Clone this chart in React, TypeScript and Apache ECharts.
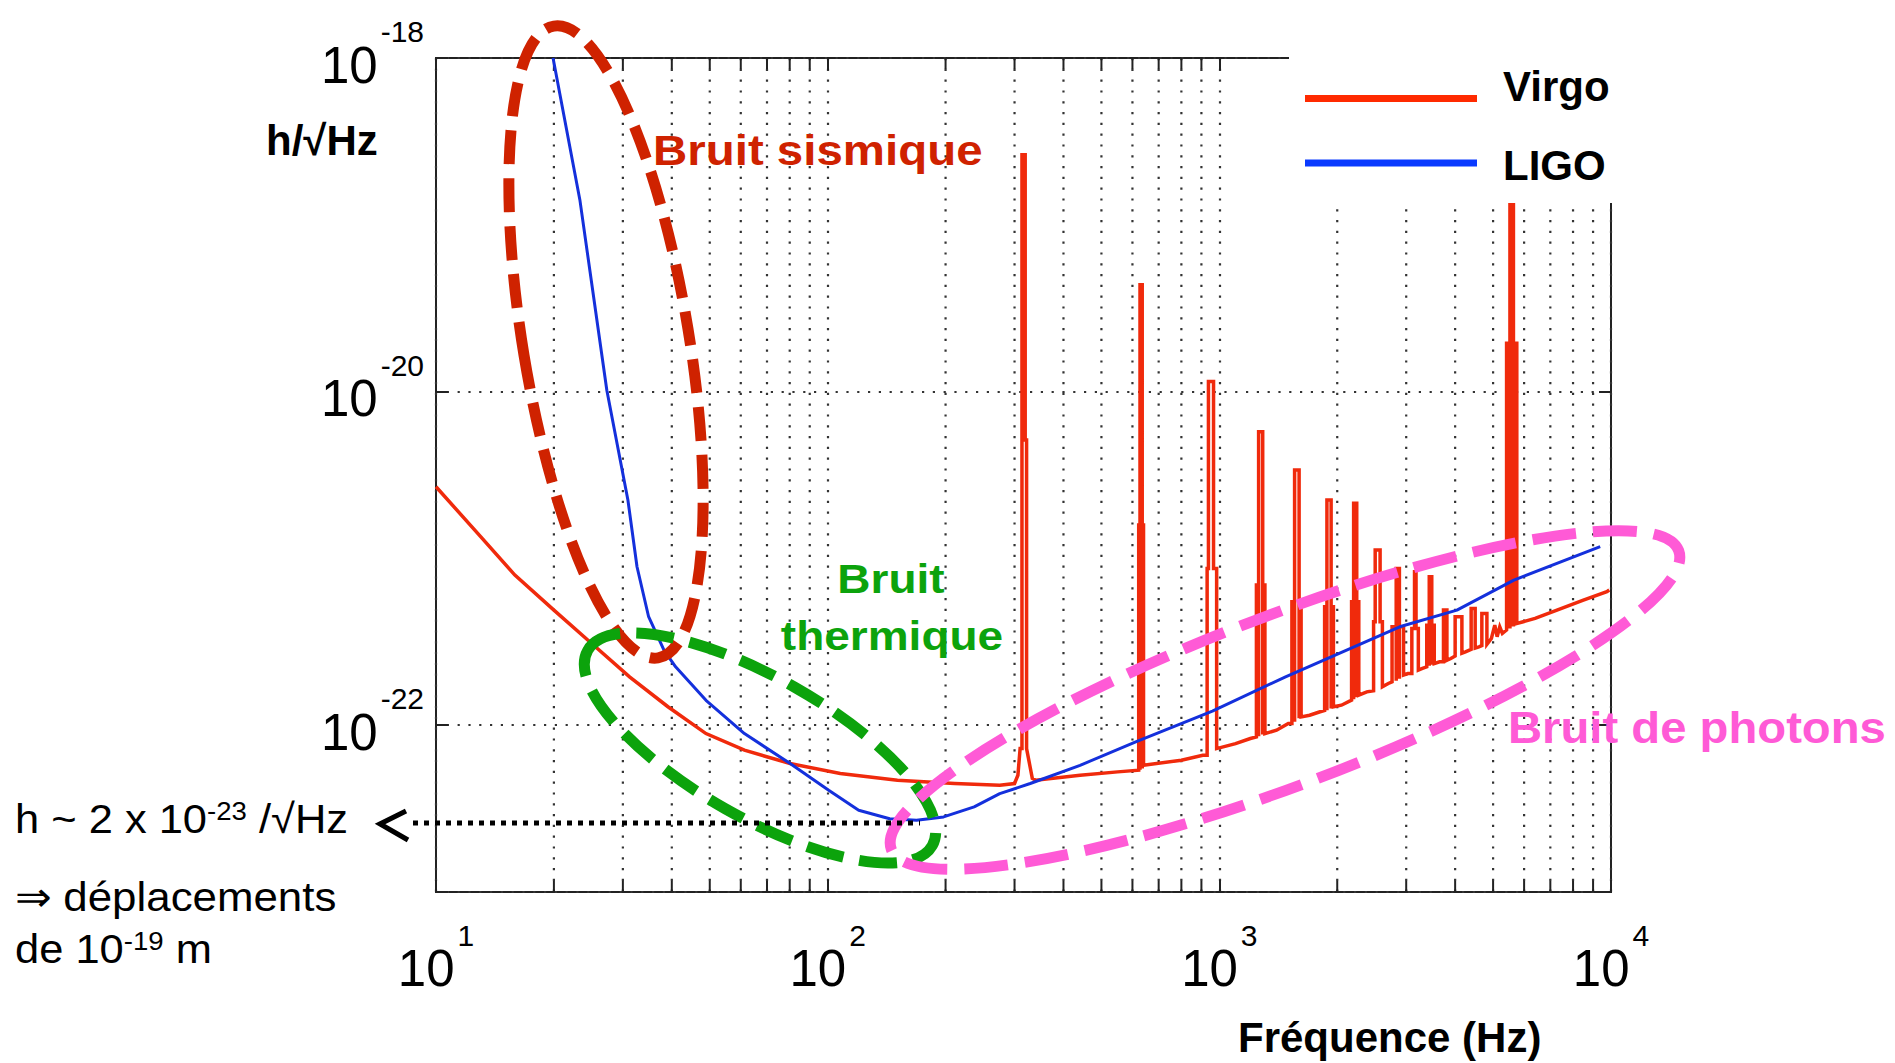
import React, { useEffect, useRef } from 'react';
import * as echarts from 'echarts';

// ---------- data ----------
const seriesNames = ['Virgo', 'LIGO'];
const xTickExponents = [1, 2, 3, 4];
const yTickExponents = [-22, -20, -18];
const xRange = [10, 10000];
const yRange = [1e-23, 1e-18];
const minorFreqs = [20, 30, 40, 50, 60, 70, 80, 90, 200, 300, 400, 500, 600, 700, 800, 900, 2000, 3000, 4000, 5000, 6000, 7000, 8000, 9000];

// Virgo sensitivity [frequency Hz, h/sqrt(Hz)] (with the narrow resonance peaks)
const virgo: [number, number][] = [
  [10, 2.69e-21], [13, 1.35e-21], [15.9, 7.94e-22], [20, 4.9e-22], [24.4, 3.24e-22],
  [31.2, 1.95e-22], [39.1, 1.29e-22], [48.9, 8.91e-23], [61.3, 7.08e-23], [80.2, 5.89e-23], [107.7, 5.13e-23],
  [150.7, 4.68e-23], [211, 4.47e-23], [275, 4.37e-23], [300, 4.47e-23],
  // ~316 Hz
  [306, 5.01e-23], [310, 7.24e-23], [313.4, 7.24e-23], [313.4, 2.63e-19], [319.4, 2.63e-19], [319.4, 5.13e-21],
  [322, 5.13e-21], [322, 7.24e-23], [327, 6.0e-23], [333, 4.8e-23],
  [340, 4.68e-23], [441, 5.01e-23], [550, 5.25e-23],
  // ~631 Hz
  [622.5, 5.37e-23], [622.5, 1.585e-21], [627.3, 1.585e-21], [627.3, 5.4e-23], [627.3, 4.37e-20], [635.5, 4.37e-20],
  [635.5, 5.5e-23], [635.5, 1.585e-21], [640.4, 1.585e-21], [640.4, 5.75e-23],
  [800, 6.17e-23], [907, 6.61e-23],
  // ~953 Hz
  [930.8, 6.61e-23], [930.8, 8.71e-22], [938, 8.71e-22], [938, 1.148e-20], [966.5, 1.148e-20], [966.5, 8.71e-22],
  [984.3, 8.71e-22], [984.3, 7.24e-23],
  [1100, 7.76e-23], [1200, 8.32e-23],
  // ~1271 Hz
  [1243.6, 8.51e-23], [1243.6, 6.92e-22], [1259.8, 6.92e-22], [1259.8, 8.6e-23], [1259.8, 5.75e-21], [1290.5, 5.75e-21],
  [1290.5, 8.8e-23], [1290.5, 6.92e-22], [1307.3, 6.92e-22], [1307.3, 8.91e-23],
  [1400, 9.33e-23], [1500, 1.023e-22],
  // ~1580 Hz
  [1532.1, 1.023e-22], [1532.1, 5.5e-22], [1556.6, 5.5e-22], [1556.6, 1.05e-22], [1556.6, 3.39e-21], [1598.4, 3.39e-21],
  [1598.4, 1.1e-22], [1598.4, 5.5e-22], [1617.3, 5.5e-22], [1617.3, 1.122e-22],
  [1700, 1.148e-22], [1800, 1.2e-22],
  // ~1905 Hz
  [1857.1, 1.225e-22], [1857.1, 5.13e-22], [1882.4, 5.13e-22], [1882.4, 1.23e-22], [1882.4, 2.24e-21], [1929.4, 2.24e-21],
  [1929.4, 1.26e-22], [1929.4, 5.13e-22], [1955.7, 5.13e-22], [1955.7, 1.29e-22],
  [2050, 1.318e-22],
  // ~2222 Hz
  [2176, 1.413e-22], [2176, 5.5e-22], [2202.4, 5.5e-22], [2202.4, 1.43e-22], [2202.4, 2.14e-21], [2243, 2.14e-21],
  [2243, 1.47e-22], [2243, 5.5e-22], [2270.2, 5.5e-22], [2270.2, 1.514e-22],
  [2380, 1.585e-22],
  // ~2530 Hz
  [2476.6, 1.61e-22], [2476.6, 4.17e-22], [2500, 4.17e-22], [2500, 1.122e-21], [2573.1, 1.122e-21], [2573.1, 4.17e-22],
  [2608.2, 4.17e-22], [2608.2, 1.7e-22],
  [2700, 1.778e-22],
  // ~2850 Hz
  [2760.5, 1.82e-22], [2760.5, 3.89e-22], [2828.6, 3.89e-22], [2828.6, 1.85e-22], [2828.6, 8.71e-22], [2882.3, 8.71e-22],
  [2882.3, 1.9e-22], [2882.3, 3.89e-22], [2953.6, 3.89e-22], [2953.6, 2.0e-22],
  [3030, 2.04e-22],
  // ~3160 Hz
  [3101, 2.04e-22], [3101, 3.8e-22], [3150.6, 3.8e-22], [3150.6, 8.32e-22], [3178.5, 8.32e-22], [3178.5, 3.8e-22],
  [3221.8, 3.8e-22], [3221.8, 2.14e-22],
  [3300, 2.19e-22],
  // ~3450 Hz
  [3385.3, 2.24e-22], [3385.3, 3.98e-22], [3435.4, 3.98e-22], [3435.4, 2.27e-22], [3435.4, 7.76e-22], [3486.3, 7.76e-22],
  [3486.3, 2.3e-22], [3486.3, 3.98e-22], [3537.9, 3.98e-22], [3537.9, 2.34e-22],
  [3650, 2.4e-22],
  // small lines 3.7 - 4.8 kHz
  [3735, 2.4e-22], [3735, 4.9e-22], [3811, 4.9e-22], [3811, 2.45e-22], [3900, 2.51e-22],
  [4000, 2.6e-22], [4000, 4.47e-22], [4162, 4.47e-22], [4162, 2.7e-22], [4250, 2.75e-22],
  [4395, 2.85e-22], [4395, 5.01e-22], [4500, 5.01e-22], [4500, 2.9e-22], [4600, 2.95e-22],
  [4680, 3.0e-22], [4680, 4.68e-22], [4821, 4.68e-22], [4821, 3.05e-22],
  [4950, 3.31e-22], [5050, 3.98e-22], [5120, 3.39e-22], [5200, 3.89e-22], [5280, 3.55e-22],
  // ~5560 Hz
  [5412.7, 3.72e-22], [5412.7, 1.95e-20], [5520.4, 1.95e-20], [5520.4, 3.8e-22], [5520.4, 5.0e-19], [5635.1, 5.0e-19],
  [5635.1, 3.9e-22], [5635.1, 1.95e-20], [5747.4, 1.95e-20], [5747.4, 4.07e-22],
  [5970, 4.17e-22], [6400, 4.37e-22], [7278, 4.9e-22], [8500, 5.62e-22], [9760, 6.31e-22], [9900, 6.46e-22],
];

// LIGO sensitivity [frequency Hz, h/sqrt(Hz)]
const ligo: [number, number][] = [
  [19.9, 1.0e-18], [23.3, 1.41e-19], [27.3, 1.02e-20], [30.9, 2.24e-21], [32.6, 8.91e-22], [34.9, 4.47e-22],
  [38.2, 2.82e-22], [40.9, 2.24e-22], [48.9, 1.41e-22], [61.3, 8.91e-23], [80.2, 5.89e-23], [100.6, 4.07e-23],
  [120, 3.09e-23], [144, 2.75e-23], [168.6, 2.69e-23], [197.7, 2.82e-23], [236.6, 3.24e-23], [275, 3.89e-23],
  [329, 4.47e-23], [441, 5.75e-23], [616, 8.0e-23], [960, 1.216e-22], [1476, 1.95e-22], [2888, 3.89e-22],
  [4042, 4.9e-22], [5650, 7.41e-22], [9385, 1.175e-21],
];

// ---------- texts ----------
const xAxisTitle = 'Fréquence (Hz)';
const yAxisTitle = 'h/√Hz';
const noteSeismic = 'Bruit sismique';
const noteThermal = ['Bruit', 'thermique'];
const notePhoton = 'Bruit de photons';

// ---------- styles ----------
const FONT = "'Liberation Sans', Arial, Helvetica, sans-serif";
const NARROW = "'Liberation Sans Narrow', 'Liberation Sans', Arial, sans-serif";
const RED = '#f02a0c';
const BLUE = '#1430dc';
const GRID_DOT = '#333';
const C_SEIS = '#cf2200';
const C_THERM = '#0ca30c';
const C_PHOT = '#ff5ad6';

const tickRich = {
  b: { fontFamily: NARROW, fontSize: 51, lineHeight: 97, verticalAlign: 'middle', color: '#000' },
  s: { fontFamily: FONT, fontSize: 30, lineHeight: 28, verticalAlign: 'top', color: '#000', padding: [0, 0, 0, 3] },
};

const legendTok = { fontFamily: FONT, fontWeight: 'bold', fontSize: 42, lineHeight: 42, color: '#000' };

const expOf = (v: number) => Math.round(Math.log10(v));

function buildOption(): any {
  return {
    animation: false,
    backgroundColor: '#fff',
    grid: {
      left: 436, top: 58, width: 1175, height: 834,
      show: true, borderColor: '#222', borderWidth: 2, backgroundColor: 'transparent',
      containLabel: false, outerBoundsMode: 'none',
    },
    legend: {
      data: [
        { name: seriesNames[0], itemStyle: { color: '#ff2a00', borderWidth: 0 } },
        { name: seriesNames[1], itemStyle: { color: '#0a3aff', borderWidth: 0 } },
      ],
      orient: 'vertical', left: 1289, top: 0,
      padding: [65.5, 20, 17, 16], itemGap: 8.5,
      itemWidth: 172, itemHeight: 7, icon: 'rect',
      itemStyle: { borderWidth: 0 },
      backgroundColor: '#fff', selectedMode: false, z: 10,
      formatter: (name: string) => (name === seriesNames[0] ? `{v|${name}}` : `{l|${name}}`),
      textStyle: {
        fontFamily: FONT, fontWeight: 'bold', fontSize: 42, color: '#000',
        rich: {
          v: { ...legendTok, padding: [0, 0, 24, 21] },
          l: { ...legendTok, padding: [4, 0, 0, 21] },
        },
      },
    },
    xAxis: [
      {
        type: 'log', logBase: 10, min: xRange[0], max: xRange[1], interval: 1, position: 'bottom',
        axisLine: { show: false },
        axisTick: { show: true, inside: true, length: 12, lineStyle: { color: '#222', width: 2 } },
        splitLine: { show: true, lineStyle: { color: GRID_DOT, width: 2.2, type: [2.2, 8.6] } },
        axisLabel: {
          show: true, margin: 28, rich: tickRich,
          formatter: (v: number) => {
            const e = expOf(v);
            return xTickExponents.includes(e) ? `{b|10}{s|${e}}` : '';
          },
        },
      },
      {
        type: 'log', logBase: 10, min: xRange[0], max: xRange[1], interval: 1, position: 'top',
        axisLine: { show: false },
        axisTick: { show: true, inside: true, length: 12, lineStyle: { color: '#222', width: 2 } },
        splitLine: { show: false }, axisLabel: { show: false },
      },
    ],
    yAxis: [
      {
        type: 'log', logBase: 10, min: yRange[0], max: yRange[1], interval: 1, position: 'left',
        axisLine: { show: false }, axisTick: { show: false }, splitLine: { show: false },
        axisLabel: {
          show: true, margin: 12, padding: [14, 0, 0, 0], rich: tickRich,
          formatter: (v: number) => {
            const e = expOf(v);
            return yTickExponents.includes(e) ? `{b|10}{s|${e}}` : '';
          },
        },
      },
      {
        type: 'value', min: expOf(yRange[0]), max: expOf(yRange[1]), splitNumber: 3, position: 'left',
        axisLine: { show: false }, axisLabel: { show: false },
        axisTick: { show: true, inside: true, length: 12, lineStyle: { color: '#222', width: 2 } },
        splitLine: { show: true, lineStyle: { color: GRID_DOT, width: 2.2, type: [2.2, 8.6] } },
      },
      {
        type: 'value', min: expOf(yRange[0]), max: expOf(yRange[1]), splitNumber: 3, position: 'right',
        axisLine: { show: false }, axisLabel: { show: false }, splitLine: { show: false },
        axisTick: { show: true, inside: true, length: 12, lineStyle: { color: '#222', width: 2 } },
      },
    ],
    series: [
      {
        name: 'minor grid', type: 'custom', xAxisIndex: 0, yAxisIndex: 0, z: 1, silent: true,
        data: minorFreqs.map((f) => [f]),
        encode: { x: 0 },
        renderItem: (_p: any, api: any) => {
          const f = api.value(0);
          const top = api.coord([f, yRange[1]]);
          const bot = api.coord([f, yRange[0]]);
          return {
            type: 'group',
            children: [
              { type: 'line', shape: { x1: top[0], y1: top[1], x2: bot[0], y2: bot[1] }, style: { stroke: GRID_DOT, lineWidth: 2.2, lineDash: [2.2, 8.6] } },
              { type: 'line', shape: { x1: bot[0], y1: bot[1], x2: bot[0], y2: bot[1] - 11 }, style: { stroke: '#222', lineWidth: 2 } },
              { type: 'line', shape: { x1: top[0], y1: top[1], x2: top[0], y2: top[1] + 11 }, style: { stroke: '#222', lineWidth: 2 } },
            ],
          };
        },
      },
      {
        name: seriesNames[0], type: 'line', xAxisIndex: 0, yAxisIndex: 0, data: virgo,
        showSymbol: false, symbol: 'none', z: 3, color: RED,
        lineStyle: { color: RED, width: 3.5, join: 'miter' },
      },
      {
        name: seriesNames[1], type: 'line', xAxisIndex: 0, yAxisIndex: 0, data: ligo,
        showSymbol: false, symbol: 'none', z: 4, color: BLUE,
        lineStyle: { color: BLUE, width: 3 },
      },
    ],
    graphic: [
      // ellipses
      { type: 'ellipse', z: 100, x: 606, y: 342, rotation: 0.164, shape: { cx: 0, cy: 0, rx: 83, ry: 320 },
        style: { fill: 'none', stroke: C_SEIS, lineWidth: 11, lineDash: [34, 14] } },
      { type: 'ellipse', z: 100, x: 760, y: 748, rotation: -0.515, shape: { cx: 0, cy: 0, rx: 198, ry: 70 },
        style: { fill: 'none', stroke: C_THERM, lineWidth: 11, lineDash: [38, 16] } },
      { type: 'ellipse', z: 100, x: 1285, y: 700, rotation: 0.363, shape: { cx: 0, cy: 0, rx: 421, ry: 85 },
        style: { fill: 'none', stroke: C_PHOT, lineWidth: 11, lineDash: [44, 17] } },
      // notes
      { type: 'text', z: 100, x: 653, y: 150, scaleX: 1.13,
        style: { text: noteSeismic, fontFamily: FONT, fontWeight: 'bold', fontSize: 42, fill: C_SEIS, align: 'left', verticalAlign: 'middle' } },
      { type: 'text', z: 100, x: 891, y: 579, scaleX: 1.15,
        style: { text: noteThermal[0], fontFamily: FONT, fontWeight: 'bold', fontSize: 40, fill: C_THERM, align: 'center', verticalAlign: 'middle' } },
      { type: 'text', z: 100, x: 892, y: 636, scaleX: 1.15,
        style: { text: noteThermal[1], fontFamily: FONT, fontWeight: 'bold', fontSize: 40, fill: C_THERM, align: 'center', verticalAlign: 'middle' } },
      { type: 'text', z: 100, x: 1508, y: 727, scaleX: 1.05,
        style: { text: notePhoton, fontFamily: FONT, fontWeight: 'bold', fontSize: 45, fill: C_PHOT, align: 'left', verticalAlign: 'middle' } },
      // axis titles
      { type: 'text', z: 100, x: 266, y: 140,
        style: { text: yAxisTitle, fontFamily: FONT, fontWeight: 'bold', fontSize: 42, fill: '#000', align: 'left', verticalAlign: 'middle' } },
      { type: 'text', z: 100, x: 1238, y: 1037,
        style: { text: xAxisTitle, fontFamily: FONT, fontWeight: 'bold', fontSize: 42, fill: '#000', align: 'left', verticalAlign: 'middle' } },
      // left side remarks
      { type: 'text', z: 100, x: 15, y: 819, scaleX: 1.06,
        style: {
          text: '{n|h ~ 2 x 10}{s|-23}{n| /√Hz}', align: 'left', verticalAlign: 'middle',
          rich: {
            n: { fontFamily: FONT, fontSize: 41, lineHeight: 41, verticalAlign: 'bottom', fill: '#000' },
            s: { fontFamily: FONT, fontSize: 26, lineHeight: 26, verticalAlign: 'top', fill: '#000' },
          },
        } },
      { type: 'text', z: 100, x: 15, y: 897, scaleX: 1.07,
        style: { text: '⇒ déplacements', fontFamily: FONT, fontSize: 41, fill: '#000', align: 'left', verticalAlign: 'middle' } },
      { type: 'text', z: 100, x: 15, y: 949, scaleX: 1.06,
        style: {
          text: '{n|de 10}{s|-19}{n| m}', align: 'left', verticalAlign: 'middle',
          rich: {
            n: { fontFamily: FONT, fontSize: 41, lineHeight: 41, verticalAlign: 'bottom', fill: '#000' },
            s: { fontFamily: FONT, fontSize: 26, lineHeight: 26, verticalAlign: 'top', fill: '#000' },
          },
        } },
      // dotted arrow
      { type: 'line', z: 100, shape: { x1: 413, y1: 823, x2: 920, y2: 823 },
        style: { stroke: '#000', lineWidth: 5, lineDash: [5, 6] } },
      { type: 'polyline', z: 100, shape: { points: [[406, 811], [380, 824], [408, 840]] },
        style: { stroke: '#000', lineWidth: 5, fill: 'none' } },
    ],
  };
}

export default function App() {
  const ref = useRef<HTMLDivElement>(null);
  useEffect(() => {
    if (!ref.current) return;
    const chart = echarts.init(ref.current, null, { renderer: 'svg' });
    chart.setOption(buildOption());
    return () => chart.dispose();
  }, []);
  return (
    <div
      ref={ref}
      style={{ position: 'fixed', left: 0, top: 0, width: 1895, height: 1063, background: '#fff' }}
    />
  );
}
